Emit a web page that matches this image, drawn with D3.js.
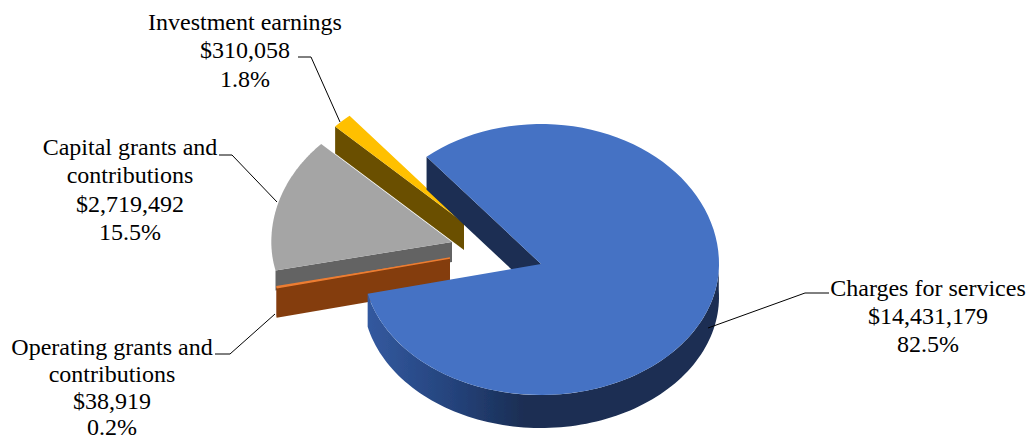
<!DOCTYPE html>
<html><head><meta charset="utf-8">
<style>html,body{margin:0;padding:0;background:#fff}svg{display:block}text{font-family:"Liberation Serif","Times New Roman",serif;font-size:24px;fill:#000}</style>
<script src="https://cdn.jsdelivr.net/npm/d3@7/dist/d3.min.js"></script>
</head><body><script>
const categories = [["Charges for services"],["Operating grants and","contributions"],["Capital grants and","contributions"],["Investment earnings"]];
const values = [14431179,38919,2719492,310058];
const percents = ["82.5%","0.2%","15.5%","1.8%"];
const topColors = ["#4472c4","#ed7d31","#a5a5a5","#ffc000"];
const wallColors = ["#1a2d52","#843c0c","#636363","#6a5000"];

const W=1031,H=441, cx=541, cy=264, rx=178, ryTop=140, ryBot=131;
const offsets=[[0,0],[-91,-6],[-89,-22],[-77,-41]];
const scales=[1,1,1.015,1];
const depths=[33,30,20,27];
const labelPos=[[928,[296,324,352]],[112,[355,382,409,435]],[130,[155,183,212,240]],[245,[30,58,87]]];
const leaders=[[[829,293],[805,293],[708,328]],[[215,354],[230,354],[275,314]],[[219,155],[232,155],[277,202]],[[298,57],[311,57],[340,122]]];

const pie=d3.pie().sort(null).value(d=>d).startAngle(320*Math.PI/180).endAngle((320+360)*Math.PI/180);
const arcs=pie(values);
const svg=d3.select("body").append("svg").attr("width",W).attr("height",H);
const defs=svg.append("defs");
defs.append("filter").attr("id","soft").append("feGaussianBlur").attr("stdDeviation",0.6);
const grad=defs.append("linearGradient").attr("id","rim").attr("gradientUnits","userSpaceOnUse").attr("x1",368).attr("x2",719).attr("y1",0).attr("y2",0);
[[0,"#33599f"],[0.25,"#24427a"],[0.45,"#1a2d52"],[1,"#1a2d52"]].forEach(s=>grad.append("stop").attr("offset",s[0]).attr("stop-color",s[1]));

const pt=(a,i,dz=0)=>{const c=Math.cos(a),s=scales[i];return [cx+offsets[i][0]+s*rx*Math.sin(a), cy+offsets[i][1]-s*(c>0?ryTop:ryBot)*c+dz];};
const apex=(i,dz=0)=>[cx+offsets[i][0],cy+offsets[i][1]+dz];
const rim=(a0,a1,i,dz=0)=>d3.range(0,101).map(k=>pt(a0+(a1-a0)*k/100,i,dz));
const line=d3.line();
const g=svg.append("g").attr("filter","url(#soft)");

function topFace(d,i,fill){g.append("path").attr("d",line([apex(i),...rim(d.startAngle,d.endAngle,i)])+"Z").attr("fill",fill);}
function radialWall(a,i,fill){const dz=depths[i];g.append("path").attr("d",line([apex(i),pt(a,i),pt(a,i,dz),apex(i,dz)])+"Z").attr("fill",fill);}
function rimWall(a0,a1,i,fill){const dz=depths[i];g.append("path").attr("d",line([...rim(a0,a1,i),...rim(a0,a1,i,dz).reverse()])+"Z").attr("fill",fill);}

radialWall(arcs[2].startAngle,2,wallColors[2]);
topFace(arcs[2],2,topColors[2]);
radialWall(arcs[1].startAngle,1,wallColors[1]);
rimWall(arcs[1].startAngle,arcs[1].endAngle,1,wallColors[1]);
topFace(arcs[1],1,topColors[1]);
g.append("path").attr("d",line([apex(1),pt(arcs[1].startAngle,1)])).attr("stroke",topColors[1]).attr("stroke-width",1.5).attr("fill","none");
radialWall(arcs[3].startAngle,3,wallColors[3]);
topFace(arcs[3],3,topColors[3]);
radialWall(arcs[0].startAngle,0,wallColors[0]);
rimWall(Math.PI*2.5-0.05, arcs[0].endAngle,0,"url(#rim)");
topFace(arcs[0],0,topColors[0]);

svg.append("g").selectAll("path").data(leaders).join("path")
  .attr("d",d=>line(d)).attr("fill","none").attr("stroke","#000").attr("stroke-width",1);

const fmt=d3.format("$,");
const labels=svg.append("g").selectAll("text").data(categories).join("text").attr("text-anchor","middle");
labels.each(function(d,i){
  const lines=[...d,fmt(values[i]),percents[i]];
  const [x,ys]=labelPos[i];
  d3.select(this).selectAll("tspan").data(lines).join("tspan").attr("x",x).attr("y",(l,k)=>ys[k]).text(l=>l);
});
</script></body></html>
